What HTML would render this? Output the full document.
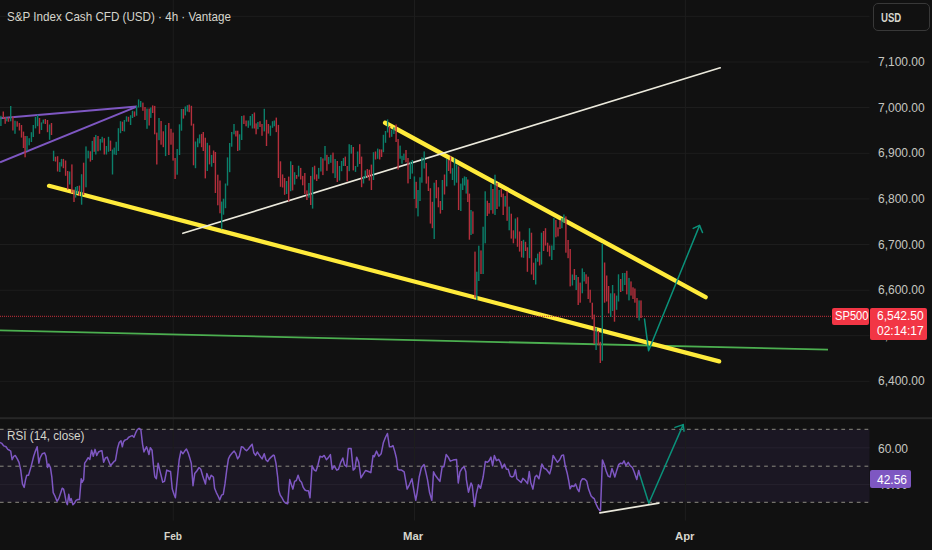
<!DOCTYPE html>
<html><head><meta charset="utf-8"><style>
html,body{margin:0;padding:0;background:#111111;}
body{width:932px;height:550px;position:relative;overflow:hidden;font-family:"Liberation Sans",Arial,sans-serif;}
.t{position:absolute;white-space:nowrap;line-height:1;}
.pl{position:absolute;left:878px;font-size:12px;color:#c6c6c0;line-height:12px;}
</style></head><body>
<svg width="932" height="550" viewBox="0 0 932 550" style="position:absolute;left:0;top:0">
<rect width="932" height="550" fill="#111111"/>
<rect x="0" y="15.8" width="869.5" height="1" fill="#1d1d1d"/>
<rect x="0" y="61.5" width="869.5" height="1" fill="#1d1d1d"/>
<rect x="0" y="107" width="869.5" height="1" fill="#1d1d1d"/>
<rect x="0" y="152.8" width="869.5" height="1" fill="#1d1d1d"/>
<rect x="0" y="198.4" width="869.5" height="1" fill="#1d1d1d"/>
<rect x="0" y="244" width="869.5" height="1" fill="#1d1d1d"/>
<rect x="0" y="289.7" width="869.5" height="1" fill="#1d1d1d"/>
<rect x="0" y="335.1" width="869.5" height="1" fill="#1d1d1d"/>
<rect x="0" y="380.8" width="869.5" height="1" fill="#1d1d1d"/>
<rect x="0" y="429.3" width="869.5" height="73" fill="#1b1723"/>
<rect x="0" y="447.3" width="869.5" height="1" fill="#26222e"/>
<rect x="0" y="484.1" width="869.5" height="1" fill="#26222e"/>
<rect x="172.7" y="0" width="1" height="520.5" fill="#1d1d1d"/>
<rect x="414" y="0" width="1" height="520.5" fill="#1d1d1d"/>
<rect x="684.9" y="0" width="1" height="520.5" fill="#1d1d1d"/>
<line x1="0" y1="429.3" x2="869.5" y2="429.3" stroke="#8c8a80" stroke-width="1" stroke-dasharray="3.75 3.97" stroke-dashoffset="0.13"/>
<line x1="0" y1="466.2" x2="869.5" y2="466.2" stroke="#8c8a80" stroke-width="1" stroke-dasharray="3.75 3.97" stroke-dashoffset="0.13"/>
<line x1="0" y1="502.3" x2="869.5" y2="502.3" stroke="#8c8a80" stroke-width="1" stroke-dasharray="3.75 3.97" stroke-dashoffset="0.13"/>
<rect x="0" y="417.2" width="932" height="2" fill="#272727"/>
<line x1="0" y1="330.4" x2="828" y2="349.7" stroke="#4caf50" stroke-width="1.8"/>
<line x1="49" y1="185.8" x2="719.2" y2="361.4" stroke="#ffeb3b" stroke-width="4.2" stroke-linecap="round"/>
<line x1="385.1" y1="122.8" x2="705.6" y2="297.1" stroke="#ffeb3b" stroke-width="4.4" stroke-linecap="round"/>
<line x1="0" y1="118.3" x2="136.8" y2="106.6" stroke="#7e57c2" stroke-width="2"/>
<line x1="0" y1="162.3" x2="136.8" y2="106.6" stroke="#7e57c2" stroke-width="2"/>
<line x1="0" y1="316.3" x2="832" y2="316.3" stroke="#c8303c" stroke-width="1" stroke-dasharray="1 1"/>
<line x1="182.9" y1="233.3" x2="720.2" y2="67.8" stroke="#ebe9dc" stroke-width="1.7" stroke-linecap="round"/>
<rect x="0.2" y="115.8" width="1.4" height="10.2" fill="#0b7f6a"/>
<rect x="2.6" y="111.5" width="1.4" height="7" fill="#b52f3c"/>
<rect x="4.5" y="117" width="1.4" height="6.8" fill="#b52f3c"/>
<rect x="6.1" y="117.5" width="1.4" height="3.8" fill="#0b7f6a"/>
<rect x="7.8" y="117.5" width="1.4" height="4.3" fill="#b52f3c"/>
<rect x="10" y="106" width="1.4" height="15.3" fill="#0b7f6a"/>
<rect x="12.2" y="116.4" width="1.4" height="14.1" fill="#b52f3c"/>
<rect x="14.3" y="120.7" width="1.4" height="13.1" fill="#0b7f6a"/>
<rect x="16.5" y="121.3" width="1.4" height="5.4" fill="#b52f3c"/>
<rect x="18.7" y="123" width="1.4" height="7.5" fill="#b52f3c"/>
<rect x="20.8" y="125" width="1.4" height="12.6" fill="#b52f3c"/>
<rect x="22.8" y="131.6" width="1.4" height="16.4" fill="#b52f3c"/>
<rect x="24.4" y="136" width="1.4" height="21.3" fill="#b52f3c"/>
<rect x="26.3" y="136" width="1.4" height="14.7" fill="#0b7f6a"/>
<rect x="28.5" y="138.2" width="1.4" height="7.1" fill="#0b7f6a"/>
<rect x="30.7" y="132.2" width="1.4" height="9.8" fill="#0b7f6a"/>
<rect x="32.6" y="125" width="1.4" height="12" fill="#0b7f6a"/>
<rect x="34.8" y="117" width="1.4" height="11.4" fill="#0b7f6a"/>
<rect x="36.9" y="114.7" width="1.4" height="11.5" fill="#0b7f6a"/>
<rect x="38.8" y="118" width="1.4" height="15.8" fill="#b52f3c"/>
<rect x="40.8" y="122.4" width="1.4" height="7.6" fill="#0b7f6a"/>
<rect x="42.6" y="119.6" width="1.4" height="3.9" fill="#0b7f6a"/>
<rect x="44.6" y="119" width="1.4" height="5" fill="#b52f3c"/>
<rect x="46.8" y="120" width="1.4" height="12.2" fill="#b52f3c"/>
<rect x="48.9" y="124.5" width="1.4" height="15.3" fill="#0b7f6a"/>
<rect x="50.8" y="123" width="1.4" height="12" fill="#b52f3c"/>
<rect x="52.9" y="150.7" width="1.4" height="10.4" fill="#0b7f6a"/>
<rect x="54.8" y="156.7" width="1.4" height="4.9" fill="#b52f3c"/>
<rect x="56.9" y="156.2" width="1.4" height="15.3" fill="#b52f3c"/>
<rect x="59.1" y="162.2" width="1.4" height="9.8" fill="#0b7f6a"/>
<rect x="60.8" y="158.9" width="1.4" height="7.6" fill="#0b7f6a"/>
<rect x="62.7" y="158.9" width="1.4" height="9.3" fill="#b52f3c"/>
<rect x="64.9" y="160.5" width="1.4" height="15.3" fill="#b52f3c"/>
<rect x="67" y="171" width="1.4" height="18.5" fill="#b52f3c"/>
<rect x="68.9" y="171.5" width="1.4" height="13" fill="#0b7f6a"/>
<rect x="71.2" y="164.4" width="1.4" height="28.3" fill="#b52f3c"/>
<rect x="73.3" y="189.5" width="1.4" height="12.5" fill="#b52f3c"/>
<rect x="74.9" y="187" width="1.4" height="10.6" fill="#0b7f6a"/>
<rect x="76.6" y="186" width="1.4" height="8" fill="#0b7f6a"/>
<rect x="78.7" y="185.6" width="1.4" height="10.4" fill="#b52f3c"/>
<rect x="80.9" y="174.2" width="1.4" height="30.5" fill="#0b7f6a"/>
<rect x="82.9" y="162.7" width="1.4" height="32.3" fill="#b52f3c"/>
<rect x="85.3" y="146.4" width="1.4" height="40.9" fill="#0b7f6a"/>
<rect x="87.5" y="150.7" width="1.4" height="7.7" fill="#0b7f6a"/>
<rect x="89.7" y="151.3" width="1.4" height="10.3" fill="#b52f3c"/>
<rect x="91.6" y="140.9" width="1.4" height="19.1" fill="#0b7f6a"/>
<rect x="93.5" y="137.1" width="1.4" height="14.7" fill="#b52f3c"/>
<rect x="95.1" y="134.9" width="1.4" height="19.6" fill="#0b7f6a"/>
<rect x="97.3" y="136" width="1.4" height="15.3" fill="#b52f3c"/>
<rect x="99.6" y="139" width="1.4" height="11.5" fill="#0b7f6a"/>
<rect x="101.5" y="136.8" width="1.4" height="5.8" fill="#0b7f6a"/>
<rect x="103.6" y="138.2" width="1.4" height="16.3" fill="#b52f3c"/>
<rect x="105.7" y="146" width="1.4" height="8.5" fill="#0b7f6a"/>
<rect x="107.8" y="136.8" width="1.4" height="15" fill="#0b7f6a"/>
<rect x="109.8" y="140.6" width="1.4" height="10.4" fill="#b52f3c"/>
<rect x="111.8" y="149.5" width="1.4" height="25" fill="#0b7f6a"/>
<rect x="113.5" y="147.6" width="1.4" height="6.9" fill="#0b7f6a"/>
<rect x="115.5" y="141.8" width="1.4" height="13.2" fill="#0b7f6a"/>
<rect x="117.7" y="128.2" width="1.4" height="22.8" fill="#0b7f6a"/>
<rect x="119.8" y="121.2" width="1.4" height="12" fill="#0b7f6a"/>
<rect x="121.8" y="121.7" width="1.4" height="9.3" fill="#b52f3c"/>
<rect x="123.7" y="120" width="1.4" height="11.5" fill="#0b7f6a"/>
<rect x="125.8" y="116.3" width="1.4" height="5.4" fill="#0b7f6a"/>
<rect x="127.8" y="116.8" width="1.4" height="4.9" fill="#b52f3c"/>
<rect x="129.9" y="115.2" width="1.4" height="9.8" fill="#0b7f6a"/>
<rect x="131.8" y="110.8" width="1.4" height="7.2" fill="#0b7f6a"/>
<rect x="133.8" y="111.4" width="1.4" height="5.4" fill="#b52f3c"/>
<rect x="135.9" y="105.9" width="1.4" height="9.8" fill="#0b7f6a"/>
<rect x="137.9" y="99.4" width="1.4" height="8.1" fill="#0b7f6a"/>
<rect x="140" y="101" width="1.4" height="6" fill="#0b7f6a"/>
<rect x="142.2" y="102.6" width="1.4" height="8.2" fill="#b52f3c"/>
<rect x="144.3" y="107" width="1.4" height="13" fill="#b52f3c"/>
<rect x="146.3" y="108.6" width="1.4" height="20.2" fill="#0b7f6a"/>
<rect x="148.5" y="108.6" width="1.4" height="16.9" fill="#b52f3c"/>
<rect x="150.1" y="107.5" width="1.4" height="10.4" fill="#0b7f6a"/>
<rect x="152" y="105.4" width="1.4" height="7.6" fill="#b52f3c"/>
<rect x="154" y="105.9" width="1.4" height="28.4" fill="#b52f3c"/>
<rect x="156.1" y="132.6" width="1.4" height="31.9" fill="#b52f3c"/>
<rect x="158.3" y="118" width="1.4" height="22.2" fill="#0b7f6a"/>
<rect x="160.4" y="121" width="1.4" height="23.7" fill="#b52f3c"/>
<rect x="162.6" y="131.3" width="1.4" height="15.9" fill="#b52f3c"/>
<rect x="164.9" y="125" width="1.4" height="31.1" fill="#0b7f6a"/>
<rect x="168.1" y="123" width="1.4" height="32" fill="#b52f3c"/>
<rect x="170.3" y="128.8" width="1.4" height="15.9" fill="#b52f3c"/>
<rect x="172.4" y="132.6" width="1.4" height="28" fill="#b52f3c"/>
<rect x="174.4" y="158" width="1.4" height="21" fill="#b52f3c"/>
<rect x="176.5" y="149" width="1.4" height="25.7" fill="#0b7f6a"/>
<rect x="178.8" y="124.3" width="1.4" height="30.7" fill="#0b7f6a"/>
<rect x="180.8" y="109" width="1.4" height="21.7" fill="#0b7f6a"/>
<rect x="182.7" y="109" width="1.4" height="9.6" fill="#b52f3c"/>
<rect x="184.6" y="106.5" width="1.4" height="8.9" fill="#0b7f6a"/>
<rect x="186.7" y="105.2" width="1.4" height="6.4" fill="#0b7f6a"/>
<rect x="188.5" y="104.6" width="1.4" height="7.6" fill="#b52f3c"/>
<rect x="190.7" y="105.8" width="1.4" height="19.8" fill="#b52f3c"/>
<rect x="192.8" y="123.7" width="1.4" height="41.6" fill="#b52f3c"/>
<rect x="194.8" y="141.5" width="1.4" height="26.7" fill="#0b7f6a"/>
<rect x="197" y="138.3" width="1.4" height="8.9" fill="#0b7f6a"/>
<rect x="198.9" y="134.5" width="1.4" height="8.9" fill="#0b7f6a"/>
<rect x="200.9" y="133.9" width="1.4" height="13.3" fill="#b52f3c"/>
<rect x="202.6" y="132" width="1.4" height="19" fill="#b52f3c"/>
<rect x="204.6" y="137.7" width="1.4" height="40.7" fill="#b52f3c"/>
<rect x="206.6" y="142.8" width="1.4" height="28.2" fill="#0b7f6a"/>
<rect x="208.8" y="145.3" width="1.4" height="19.1" fill="#b52f3c"/>
<rect x="210.9" y="154.9" width="1.4" height="11.8" fill="#0b7f6a"/>
<rect x="212.9" y="150.5" width="1.4" height="12.5" fill="#b52f3c"/>
<rect x="214.7" y="152" width="1.4" height="41" fill="#b52f3c"/>
<rect x="217.1" y="174.7" width="1.4" height="30.6" fill="#b52f3c"/>
<rect x="219.3" y="180.5" width="1.4" height="32.8" fill="#b52f3c"/>
<rect x="221" y="201.6" width="1.4" height="27.7" fill="#0b7f6a"/>
<rect x="222.8" y="198.7" width="1.4" height="16" fill="#0b7f6a"/>
<rect x="224.8" y="183.5" width="1.4" height="24.7" fill="#0b7f6a"/>
<rect x="226.8" y="157.4" width="1.4" height="28.2" fill="#0b7f6a"/>
<rect x="229" y="143" width="1.4" height="29.2" fill="#0b7f6a"/>
<rect x="231" y="132" width="1.4" height="14.7" fill="#0b7f6a"/>
<rect x="233.3" y="124" width="1.4" height="10.3" fill="#0b7f6a"/>
<rect x="235.2" y="130.7" width="1.4" height="5.8" fill="#b52f3c"/>
<rect x="237" y="130.7" width="1.4" height="20.3" fill="#b52f3c"/>
<rect x="238.9" y="134.3" width="1.4" height="16" fill="#0b7f6a"/>
<rect x="241" y="116" width="1.4" height="24" fill="#0b7f6a"/>
<rect x="243.2" y="115.4" width="1.4" height="8.6" fill="#b52f3c"/>
<rect x="245.4" y="120.5" width="1.4" height="5.8" fill="#b52f3c"/>
<rect x="247.6" y="120.5" width="1.4" height="7.3" fill="#0b7f6a"/>
<rect x="249.6" y="116" width="1.4" height="9.6" fill="#0b7f6a"/>
<rect x="251.7" y="114" width="1.4" height="14.5" fill="#0b7f6a"/>
<rect x="253.7" y="112.5" width="1.4" height="16" fill="#b52f3c"/>
<rect x="255.4" y="123.4" width="1.4" height="10.9" fill="#b52f3c"/>
<rect x="257.2" y="122" width="1.4" height="7.2" fill="#0b7f6a"/>
<rect x="259.3" y="121.2" width="1.4" height="5.8" fill="#b52f3c"/>
<rect x="261.3" y="124" width="1.4" height="11.8" fill="#b52f3c"/>
<rect x="263.6" y="108.8" width="1.4" height="22.6" fill="#0b7f6a"/>
<rect x="265.8" y="119.8" width="1.4" height="26.2" fill="#b52f3c"/>
<rect x="267.7" y="124" width="1.4" height="9.6" fill="#b52f3c"/>
<rect x="269.7" y="125.6" width="1.4" height="10.2" fill="#0b7f6a"/>
<rect x="271.8" y="121.2" width="1.4" height="6.6" fill="#0b7f6a"/>
<rect x="273.6" y="120.5" width="1.4" height="5.8" fill="#0b7f6a"/>
<rect x="275.6" y="117.6" width="1.4" height="14.5" fill="#b52f3c"/>
<rect x="277.7" y="124.9" width="1.4" height="53.1" fill="#b52f3c"/>
<rect x="279.8" y="161.3" width="1.4" height="25.5" fill="#b52f3c"/>
<rect x="281.9" y="174.4" width="1.4" height="13.1" fill="#b52f3c"/>
<rect x="283.9" y="178" width="1.4" height="16.8" fill="#b52f3c"/>
<rect x="285.9" y="181" width="1.4" height="13" fill="#0b7f6a"/>
<rect x="288" y="176.6" width="1.4" height="24.8" fill="#b52f3c"/>
<rect x="290" y="161.3" width="1.4" height="29.9" fill="#0b7f6a"/>
<rect x="291.9" y="165" width="1.4" height="25.4" fill="#b52f3c"/>
<rect x="293.9" y="172.2" width="1.4" height="12.4" fill="#0b7f6a"/>
<rect x="295.9" y="175" width="1.4" height="3.8" fill="#b52f3c"/>
<rect x="297.9" y="165.7" width="1.4" height="10.9" fill="#0b7f6a"/>
<rect x="300" y="167.9" width="1.4" height="11.6" fill="#b52f3c"/>
<rect x="302" y="175.9" width="1.4" height="9.4" fill="#b52f3c"/>
<rect x="304.1" y="173" width="1.4" height="21" fill="#b52f3c"/>
<rect x="306.2" y="190.4" width="1.4" height="9.6" fill="#b52f3c"/>
<rect x="308.2" y="183" width="1.4" height="14.7" fill="#0b7f6a"/>
<rect x="310" y="175.9" width="1.4" height="29.1" fill="#b52f3c"/>
<rect x="311.9" y="167.1" width="1.4" height="41.5" fill="#0b7f6a"/>
<rect x="313.9" y="165.7" width="1.4" height="13.8" fill="#b52f3c"/>
<rect x="316" y="174.4" width="1.4" height="6.6" fill="#b52f3c"/>
<rect x="318" y="167.9" width="1.4" height="10.9" fill="#0b7f6a"/>
<rect x="320.2" y="157" width="1.4" height="14.5" fill="#0b7f6a"/>
<rect x="322.2" y="158.4" width="1.4" height="16.7" fill="#b52f3c"/>
<rect x="324.3" y="146" width="1.4" height="14.6" fill="#0b7f6a"/>
<rect x="326.2" y="154.8" width="1.4" height="16" fill="#b52f3c"/>
<rect x="328" y="157" width="1.4" height="7.2" fill="#0b7f6a"/>
<rect x="330.1" y="154.8" width="1.4" height="8" fill="#0b7f6a"/>
<rect x="332.3" y="152.6" width="1.4" height="20.7" fill="#b52f3c"/>
<rect x="334.4" y="159" width="1.4" height="19" fill="#0b7f6a"/>
<rect x="336.6" y="161" width="1.4" height="21" fill="#b52f3c"/>
<rect x="338.8" y="166" width="1.4" height="14.6" fill="#0b7f6a"/>
<rect x="340.9" y="161" width="1.4" height="10.2" fill="#0b7f6a"/>
<rect x="342.8" y="158" width="1.4" height="8" fill="#0b7f6a"/>
<rect x="344.6" y="156.6" width="1.4" height="9.4" fill="#b52f3c"/>
<rect x="346.5" y="166" width="1.4" height="15.4" fill="#b52f3c"/>
<rect x="348.5" y="144.2" width="1.4" height="27" fill="#0b7f6a"/>
<rect x="350.6" y="145" width="1.4" height="8.7" fill="#0b7f6a"/>
<rect x="352.6" y="147" width="1.4" height="23.4" fill="#b52f3c"/>
<rect x="354.8" y="166" width="1.4" height="5.9" fill="#0b7f6a"/>
<rect x="356.9" y="151.5" width="1.4" height="15.3" fill="#0b7f6a"/>
<rect x="359" y="144.2" width="1.4" height="19.8" fill="#b52f3c"/>
<rect x="360.9" y="156.6" width="1.4" height="30.6" fill="#b52f3c"/>
<rect x="362.8" y="176.3" width="1.4" height="7.2" fill="#0b7f6a"/>
<rect x="364.6" y="170.4" width="1.4" height="8" fill="#0b7f6a"/>
<rect x="366.6" y="169" width="1.4" height="8" fill="#b52f3c"/>
<rect x="368.6" y="169.7" width="1.4" height="10.9" fill="#b52f3c"/>
<rect x="370.7" y="164.6" width="1.4" height="25.4" fill="#b52f3c"/>
<rect x="372.8" y="152.2" width="1.4" height="27.8" fill="#0b7f6a"/>
<rect x="374.8" y="151.5" width="1.4" height="8" fill="#b52f3c"/>
<rect x="377" y="148.6" width="1.4" height="10.2" fill="#0b7f6a"/>
<rect x="379" y="149.3" width="1.4" height="10.2" fill="#b52f3c"/>
<rect x="380.9" y="149.5" width="1.4" height="7.5" fill="#b52f3c"/>
<rect x="382.7" y="134.8" width="1.4" height="17.4" fill="#0b7f6a"/>
<rect x="384.8" y="131" width="1.4" height="11.8" fill="#0b7f6a"/>
<rect x="386.9" y="119.4" width="1.4" height="13.1" fill="#0b7f6a"/>
<rect x="388.9" y="126" width="1.4" height="11.6" fill="#b52f3c"/>
<rect x="391" y="129.6" width="1.4" height="7.2" fill="#0b7f6a"/>
<rect x="393.2" y="127.4" width="1.4" height="6.6" fill="#0b7f6a"/>
<rect x="395.4" y="124.5" width="1.4" height="17.5" fill="#b52f3c"/>
<rect x="397.4" y="139" width="1.4" height="30.6" fill="#b52f3c"/>
<rect x="399.4" y="145.6" width="1.4" height="13.1" fill="#0b7f6a"/>
<rect x="401.3" y="155.8" width="1.4" height="8" fill="#0b7f6a"/>
<rect x="403.2" y="153.6" width="1.4" height="6.5" fill="#0b7f6a"/>
<rect x="405.3" y="150" width="1.4" height="12.3" fill="#b52f3c"/>
<rect x="407.3" y="158" width="1.4" height="25.4" fill="#b52f3c"/>
<rect x="409.6" y="161.6" width="1.4" height="17.4" fill="#0b7f6a"/>
<rect x="411.6" y="160" width="1.4" height="13.6" fill="#0b7f6a"/>
<rect x="413.7" y="176.4" width="1.4" height="22.6" fill="#0b7f6a"/>
<rect x="415.5" y="181.8" width="1.4" height="26.4" fill="#b52f3c"/>
<rect x="417.3" y="190" width="1.4" height="26.4" fill="#0b7f6a"/>
<rect x="419.3" y="177.3" width="1.4" height="23.7" fill="#0b7f6a"/>
<rect x="421.2" y="157.3" width="1.4" height="25.4" fill="#0b7f6a"/>
<rect x="423.5" y="151.4" width="1.4" height="17.1" fill="#0b7f6a"/>
<rect x="425.6" y="163" width="1.4" height="20.6" fill="#b52f3c"/>
<rect x="427.7" y="176.4" width="1.4" height="14.6" fill="#b52f3c"/>
<rect x="429.7" y="188.2" width="1.4" height="35.4" fill="#b52f3c"/>
<rect x="431.7" y="201.8" width="1.4" height="26.4" fill="#b52f3c"/>
<rect x="433.5" y="182.7" width="1.4" height="56.3" fill="#0b7f6a"/>
<rect x="435.6" y="180" width="1.4" height="18.2" fill="#b52f3c"/>
<rect x="437.7" y="187.3" width="1.4" height="20" fill="#b52f3c"/>
<rect x="439.7" y="201" width="1.4" height="12.6" fill="#b52f3c"/>
<rect x="441.7" y="180" width="1.4" height="30" fill="#0b7f6a"/>
<rect x="443.8" y="174.5" width="1.4" height="20" fill="#b52f3c"/>
<rect x="446" y="159" width="1.4" height="27.4" fill="#0b7f6a"/>
<rect x="447.9" y="160" width="1.4" height="11" fill="#b52f3c"/>
<rect x="449.8" y="156.4" width="1.4" height="17.2" fill="#b52f3c"/>
<rect x="451.8" y="168.2" width="1.4" height="11.8" fill="#0b7f6a"/>
<rect x="453.8" y="158.2" width="1.4" height="27.3" fill="#0b7f6a"/>
<rect x="455.9" y="164.5" width="1.4" height="18.2" fill="#0b7f6a"/>
<rect x="457.9" y="166.4" width="1.4" height="43.6" fill="#b52f3c"/>
<rect x="460.1" y="183.6" width="1.4" height="27.4" fill="#0b7f6a"/>
<rect x="462" y="178.2" width="1.4" height="11.8" fill="#0b7f6a"/>
<rect x="463.8" y="176.4" width="1.4" height="9.1" fill="#0b7f6a"/>
<rect x="465.5" y="177" width="1.4" height="16.6" fill="#0b7f6a"/>
<rect x="467.1" y="179.5" width="1.4" height="22.5" fill="#b52f3c"/>
<rect x="468.7" y="193.6" width="1.4" height="46.1" fill="#b52f3c"/>
<rect x="470.3" y="210" width="1.4" height="25" fill="#0b7f6a"/>
<rect x="472.2" y="211.4" width="1.4" height="22.4" fill="#b52f3c"/>
<rect x="474.3" y="251.6" width="1.4" height="46.1" fill="#b52f3c"/>
<rect x="476.1" y="271.7" width="1.4" height="28.3" fill="#0b7f6a"/>
<rect x="478.1" y="245.7" width="1.4" height="35.3" fill="#0b7f6a"/>
<rect x="480.3" y="250.4" width="1.4" height="23.6" fill="#b52f3c"/>
<rect x="482.4" y="226.7" width="1.4" height="47.3" fill="#0b7f6a"/>
<rect x="484.5" y="191.3" width="1.4" height="52" fill="#0b7f6a"/>
<rect x="486.6" y="200.7" width="1.4" height="15.3" fill="#b52f3c"/>
<rect x="488.4" y="203" width="1.4" height="10.7" fill="#b52f3c"/>
<rect x="490.3" y="184.2" width="1.4" height="26" fill="#0b7f6a"/>
<rect x="492.2" y="189" width="1.4" height="24.7" fill="#b52f3c"/>
<rect x="494.3" y="174.7" width="1.4" height="40.3" fill="#0b7f6a"/>
<rect x="496.3" y="183" width="1.4" height="26" fill="#b52f3c"/>
<rect x="498.5" y="190" width="1.4" height="16.6" fill="#0b7f6a"/>
<rect x="500.6" y="189" width="1.4" height="8.2" fill="#b52f3c"/>
<rect x="502.5" y="193.6" width="1.4" height="21.4" fill="#b52f3c"/>
<rect x="504.5" y="196" width="1.4" height="10.6" fill="#0b7f6a"/>
<rect x="506.4" y="191.3" width="1.4" height="29.5" fill="#b52f3c"/>
<rect x="508.5" y="206.6" width="1.4" height="23.7" fill="#0b7f6a"/>
<rect x="510.6" y="213.7" width="1.4" height="24.9" fill="#b52f3c"/>
<rect x="512.7" y="230.3" width="1.4" height="13" fill="#b52f3c"/>
<rect x="514.7" y="218.5" width="1.4" height="20.1" fill="#0b7f6a"/>
<rect x="516.8" y="217.3" width="1.4" height="29.5" fill="#b52f3c"/>
<rect x="518.9" y="231.5" width="1.4" height="20.1" fill="#b52f3c"/>
<rect x="520.9" y="241" width="1.4" height="16.4" fill="#b52f3c"/>
<rect x="522.8" y="239.8" width="1.4" height="18" fill="#0b7f6a"/>
<rect x="524.8" y="241.8" width="1.4" height="9.2" fill="#b52f3c"/>
<rect x="526.7" y="247.3" width="1.4" height="24.5" fill="#b52f3c"/>
<rect x="528.8" y="228.2" width="1.4" height="30" fill="#0b7f6a"/>
<rect x="530.8" y="232.7" width="1.4" height="41.8" fill="#b52f3c"/>
<rect x="532.9" y="262.7" width="1.4" height="17.3" fill="#b52f3c"/>
<rect x="535" y="258.2" width="1.4" height="26.3" fill="#0b7f6a"/>
<rect x="537" y="253.6" width="1.4" height="8.2" fill="#0b7f6a"/>
<rect x="538.9" y="251.8" width="1.4" height="13.7" fill="#b52f3c"/>
<rect x="540.8" y="232.7" width="1.4" height="31.8" fill="#0b7f6a"/>
<rect x="542.9" y="231" width="1.4" height="20" fill="#b52f3c"/>
<rect x="544.8" y="228.2" width="1.4" height="17.3" fill="#b52f3c"/>
<rect x="546.9" y="242.7" width="1.4" height="9.1" fill="#b52f3c"/>
<rect x="548.9" y="245.5" width="1.4" height="10.9" fill="#b52f3c"/>
<rect x="551.1" y="245.5" width="1.4" height="14.5" fill="#0b7f6a"/>
<rect x="553.2" y="218.2" width="1.4" height="31.8" fill="#0b7f6a"/>
<rect x="555.2" y="220" width="1.4" height="17.3" fill="#b52f3c"/>
<rect x="557.3" y="227.3" width="1.4" height="9.1" fill="#b52f3c"/>
<rect x="559.3" y="220" width="1.4" height="9" fill="#b52f3c"/>
<rect x="561.2" y="218.2" width="1.4" height="10" fill="#0b7f6a"/>
<rect x="563.2" y="214.5" width="1.4" height="8.2" fill="#0b7f6a"/>
<rect x="565.2" y="216.4" width="1.4" height="36.3" fill="#b52f3c"/>
<rect x="567.4" y="240" width="1.4" height="18.2" fill="#b52f3c"/>
<rect x="569.5" y="249" width="1.4" height="37.4" fill="#b52f3c"/>
<rect x="571.7" y="274.5" width="1.4" height="11" fill="#0b7f6a"/>
<rect x="573.7" y="269" width="1.4" height="11" fill="#b52f3c"/>
<rect x="575.5" y="275" width="1.4" height="15" fill="#0b7f6a"/>
<rect x="577.5" y="277" width="1.4" height="28" fill="#b52f3c"/>
<rect x="579.5" y="282.6" width="1.4" height="20.1" fill="#b52f3c"/>
<rect x="581.6" y="268.4" width="1.4" height="24.9" fill="#0b7f6a"/>
<rect x="583.5" y="272" width="1.4" height="9.4" fill="#0b7f6a"/>
<rect x="585.4" y="274.3" width="1.4" height="9.5" fill="#b52f3c"/>
<rect x="587.5" y="276.7" width="1.4" height="22.3" fill="#b52f3c"/>
<rect x="589.5" y="289.7" width="1.4" height="13" fill="#b52f3c"/>
<rect x="591.6" y="302.7" width="1.4" height="16.6" fill="#b52f3c"/>
<rect x="593.5" y="314.6" width="1.4" height="29.4" fill="#b52f3c"/>
<rect x="595.4" y="327.6" width="1.4" height="22.4" fill="#0b7f6a"/>
<rect x="597.6" y="331" width="1.4" height="14.3" fill="#b52f3c"/>
<rect x="599.6" y="341.8" width="1.4" height="21.2" fill="#b52f3c"/>
<rect x="601.6" y="243.6" width="1.4" height="117.1" fill="#0b7f6a"/>
<rect x="603.9" y="262.5" width="1.4" height="40.2" fill="#b52f3c"/>
<rect x="606" y="275.5" width="1.4" height="26" fill="#b52f3c"/>
<rect x="607.9" y="286" width="1.4" height="27.4" fill="#b52f3c"/>
<rect x="610" y="293.3" width="1.4" height="23.7" fill="#0b7f6a"/>
<rect x="611.9" y="285" width="1.4" height="26" fill="#0b7f6a"/>
<rect x="613.8" y="293.3" width="1.4" height="28.4" fill="#b52f3c"/>
<rect x="615.9" y="295.6" width="1.4" height="14.2" fill="#0b7f6a"/>
<rect x="617.8" y="274.3" width="1.4" height="27.2" fill="#0b7f6a"/>
<rect x="620" y="279" width="1.4" height="13" fill="#b52f3c"/>
<rect x="621.9" y="273" width="1.4" height="18" fill="#0b7f6a"/>
<rect x="624.1" y="273" width="1.4" height="12" fill="#0b7f6a"/>
<rect x="626.1" y="270.8" width="1.4" height="23.6" fill="#b52f3c"/>
<rect x="628.3" y="277.9" width="1.4" height="22.5" fill="#0b7f6a"/>
<rect x="630.3" y="281.4" width="1.4" height="14.2" fill="#b52f3c"/>
<rect x="632.3" y="287.3" width="1.4" height="11.7" fill="#b52f3c"/>
<rect x="634.2" y="288.5" width="1.4" height="14.2" fill="#b52f3c"/>
<rect x="636.3" y="298" width="1.4" height="20" fill="#b52f3c"/>
<rect x="638.4" y="300.4" width="1.4" height="20.1" fill="#0b7f6a"/>
<rect x="640.3" y="300.4" width="1.4" height="17.6" fill="#b52f3c"/>
<polyline points="644.5,319 648.6,350.8 699.5,225.6" fill="none" stroke="#0a917a" stroke-width="1.5" stroke-linejoin="round" stroke-linecap="round"/>
<polyline points="693.2,228.4 699.5,225.4 702.5,232.5" fill="none" stroke="#0a917a" stroke-width="1.5" stroke-linejoin="round" stroke-linecap="round"/>
<path d="M0 442.46 L1.73 443.33 L3.8 445.92 L6.05 446.78 L7.78 449.37 L9.5 450.24 L10.71 451.1 L12.1 459.74 L13.82 456.29 L15.21 455.42 L17.28 458.88 L19.01 462.33 L20.73 470.11 L22.46 483.93 L24.19 487.39 L25.57 479.61 L26.78 475.29 L28.51 475.29 L31.1 466.65 L33.69 456.29 L35.42 451.1 L37.15 446.78 L38.88 463.2 L40.09 458.01 L42.33 453.69 L44.58 452.83 L45.96 456.29 L47.52 467.52 L48.73 464.06 L50.45 467.52 L51.84 477.02 L53.22 492.57 L54.95 496.03 L57.02 501.21 L58.75 498.62 L60.48 493.43 L62.2 488.25 L63.59 489.11 L64.79 494.3 L66 501.21 L67.39 504.67 L68.77 494.3 L69.98 501.21 L71.19 498.62 L72.92 504.67 L74.64 502.94 L76.03 500.35 L77.75 499.48 L79.48 499.48 L81.21 478.75 L82.25 482.2 L83.63 479.61 L84.67 463.2 L86.39 460.6 L88.12 457.67 L89.85 459.4 L91.58 450.24 L93.3 456.29 L95.03 449.37 L96.76 455.42 L98.49 451.97 L100.22 451.1 L101.94 450.76 L103.67 462.33 L105.4 458.01 L107.13 457.15 L108.86 461.47 L110.58 465.79 L111.97 464.06 L114.04 461.47 L115.42 460.6 L117.49 448.51 L119.22 442.46 L120.95 440.73 L122.33 446.78 L123.54 441.6 L125.27 439.87 L127 439.35 L128.73 437.28 L130.45 436.41 L132.18 435.55 L133.91 437.28 L135.64 432.96 L137.37 429.5 L139.09 428.29 L140.82 429.5 L142.55 444.19 L143.93 451.97 L145.14 449.37 L146.52 446.78 L147.73 450.24 L148.94 454.56 L150.32 447.65 L152.05 450.24 L153.43 464.92 L154.64 475.29 L155 477.02 L156.38 478.75 L158.11 463.2 L160.18 471.84 L162.78 482.2 L164.5 481.34 L166.75 470.11 L168.82 470.97 L170.55 471.49 L172.28 489.11 L174.01 494.3 L175.39 497.75 L177.46 477.02 L179.19 459.74 L180.92 451.1 L182.99 453.69 L184.72 451.1 L186.45 449.03 L188.17 452.83 L189.56 457.15 L191.29 463.2 L193.01 485.66 L194.74 473.56 L196.81 470.97 L199.06 467.52 L200.79 469.24 L202.52 475.29 L203.9 479.61 L205.45 483.93 L206.84 473.56 L208.22 477.02 L209.43 479.61 L211.16 475.29 L213.4 477.02 L214.61 488.25 L216.34 492.57 L218.07 496.03 L219.79 499.83 L221.52 495.16 L223.25 494.3 L224.98 483.93 L226.71 470.11 L228.43 458.88 L230.16 455.42 L232.41 452.83 L234.14 451.1 L235.86 453.69 L237.59 458.88 L239.32 456.29 L241.39 446.78 L243.12 447.3 L244.85 449.37 L246.58 450.76 L248.3 449.03 L250.03 446.78 L252.11 444.19 L253.83 452.83 L255.56 455.42 L257.29 451.97 L259.02 454.56 L260.75 457.15 L262.13 458.88 L264.2 453.69 L265.93 459.74 L267.66 461.47 L269.38 458.88 L271.11 457.15 L273.36 455.08 L274.22 455.42 L275.95 463.2 L277.68 477.02 L278.89 490.84 L280.27 495.16 L282 497.75 L283.73 501.21 L285.45 502.94 L287.7 503.8 L288.91 489.11 L289.77 479.61 L291.16 483.93 L292.88 489.11 L294.61 481.34 L296.34 480.48 L298.07 475.29 L299.79 480.48 L301.52 482.2 L303.25 487.39 L304.98 489.98 L306.71 490.84 L308.43 490.84 L310 497.75 L312.07 465.79 L314.32 470.11 L316.05 470.97 L317.78 465.79 L320.02 456.29 L322.1 457.15 L324.17 455.42 L326.41 459.74 L328.66 457.15 L330.39 454.56 L332.12 469.24 L334.19 465.79 L336.78 470.11 L338.51 469.24 L340.76 462.33 L342.83 458.01 L344.56 464.92 L346.63 466.65 L348.36 448.51 L351.12 448.51 L353.2 470.11 L354.92 468.38 L356.65 457.15 L358.73 462.33 L360.97 477.88 L363.56 473.56 L365.64 470.45 L368.4 471.49 L370.82 472.7 L373.07 455.42 L374.28 456.63 L376.52 451.1 L378.77 456.29 L381.19 453.69 L383.43 442.46 L385.51 437.28 L387.41 433.48 L389.48 446.78 L391.21 446.78 L392.94 445.57 L394.67 451.1 L396.39 458.01 L397.78 469.24 L399.5 470.11 L401.58 470.11 L404.17 471.84 L407.11 489.11 L409.35 484.79 L411.94 478.75 L413.67 489.11 L415.75 500.35 L417.13 492.57 L419.2 477.02 L421.45 467.52 L424.04 464.58 L425.77 471.84 L427.49 479.61 L429.57 492.57 L431.81 500.35 L433.54 471.84 L435.27 475.29 L437.86 478.75 L439.94 481.34 L442.18 466.65 L443.91 466.65 L446.16 454.56 L448.23 457.15 L450.3 461.12 L453.07 460.09 L456.52 459.4 L458.25 483.07 L459.98 471.84 L462.05 468.38 L464.13 466.65 L465.85 471.84 L466.38 479.61 L468.46 492.22 L471.05 483.07 L472.26 485.66 L474.5 506.39 L476.23 494.3 L478.48 484.79 L480.55 488.25 L483.14 477.02 L485.39 461.47 L487.46 462.33 L489.19 460.6 L490.92 457.15 L492.65 465.79 L494.37 455.42 L496.45 460.6 L498.69 459.4 L500.42 462.33 L502.15 468.03 L504.4 464.06 L506.47 469.24 L508.2 469.24 L510.27 476.16 L512 477.02 L513.73 476.16 L515.45 469.76 L516.84 478.75 L518.91 480.48 L521.16 482.55 L522.88 478.4 L525.13 480.48 L527.55 483.59 L529.28 471.49 L530.66 482.2 L532.9 489.11 L534.98 477.02 L536.71 475.29 L538.95 478.75 L541.89 464.06 L544.14 468.38 L546.21 469.24 L547.94 471.49 L549.67 473.91 L551.39 467.52 L553.12 455.42 L555.19 458.88 L557.44 462.33 L559.69 459.74 L561.76 455.42 L563.49 454.9 L565.22 465.79 L567.29 473.56 L568.67 480.48 L570.05 488.77 L571.78 485.66 L573.86 486.52 L575.58 483.93 L577.31 488.77 L579.04 491.71 L580.77 481.34 L582.49 478.75 L584.57 479.09 L586.81 481.34 L588.54 489.11 L591.13 496.03 L592.86 497.75 L594.24 498.62 L596.32 504.67 L598.05 508.12 L599.77 510.71 L600.5 510.49 L602.41 459.88 L604.32 464.66 L606.23 471.34 L608.14 476.12 L610.05 477.07 L611.96 468.48 L613.3 472.3 L614.83 477.07 L616.74 470.39 L618.65 464.66 L620.56 463.13 L622.47 463.7 L624 460.84 L625.91 465.61 L628.2 462.36 L630.11 465.61 L632.4 467.52 L634.31 472.3 L636.79 479.55 L638.7 470.39 L640.04 476.12" fill="none" stroke="#7e57c2" stroke-width="1.5" stroke-linejoin="round"/>
<polyline points="640.2,476 648.8,503.2 683.2,424.6" fill="none" stroke="#0a917a" stroke-width="1.5" stroke-linejoin="round" stroke-linecap="round"/>
<polyline points="675,427.4 683.2,424.6 684,431.2" fill="none" stroke="#0a917a" stroke-width="1.5" stroke-linejoin="round" stroke-linecap="round"/>
<line x1="599.9" y1="512.8" x2="658.8" y2="503.2" stroke="#ebe9dc" stroke-width="1.7" stroke-linecap="round"/>
</svg>
<div class="t" style="left:7px;top:10.1px;font-size:13px;color:#d6d5cc;transform:scaleX(0.895);transform-origin:0 0;">S&amp;P Index Cash CFD (USD) · 4h · Vantage</div>
<div style="position:absolute;left:872.8px;top:3px;width:57.4px;height:28px;border:1.5px solid #383838;border-radius:5px;box-sizing:border-box;"></div>
<div class="t" style="left:881.3px;top:12px;font-size:12.5px;color:#d6d5cc;font-weight:bold;transform:scaleX(0.77);transform-origin:0 0;">USD</div>
<div class="pl" style="top:56px">7,100.00</div>
<div class="pl" style="top:101.5px">7,000.00</div>
<div class="pl" style="top:147.3px">6,900.00</div>
<div class="pl" style="top:192.9px">6,800.00</div>
<div class="pl" style="top:238.5px">6,700.00</div>
<div class="pl" style="top:284.2px">6,600.00</div>
<div class="pl" style="top:329.6px">6,500.00</div>
<div class="pl" style="top:375.3px">6,400.00</div>
<div style="position:absolute;left:831.7px;top:307.8px;width:37.3px;height:16.8px;background:#f23645;border-radius:2px;"></div>
<div class="t" style="left:835px;top:310.3px;font-size:12px;color:#fff;transform:scaleX(0.93);transform-origin:0 0;">SP500</div>
<div style="position:absolute;left:870.3px;top:307.6px;width:56.6px;height:32px;background:#f23645;border-radius:2px;"></div>
<div class="t" style="left:877px;top:310.3px;font-size:12px;color:#fff;">6,542.50</div>
<div class="t" style="left:877px;top:324.5px;font-size:12px;color:#fff;">02:14:17</div>
<div class="pl" style="top:442.5px">60.00</div>
<div class="pl" style="top:479px">40.00</div>
<div style="position:absolute;left:870px;top:470.4px;width:41px;height:17.4px;background:#7e57c2;border-radius:2px;"></div>
<div class="t" style="left:877px;top:474.3px;font-size:12px;color:#fff;">42.56</div>
<div class="t" style="left:7px;top:429.8px;font-size:12px;color:#d6d5cc;transform:scaleX(0.976);transform-origin:0 0;">RSI (14, close)</div>
<div class="t" style="left:163.5px;top:530.5px;font-size:11px;color:#d6d5cc;font-weight:bold;transform:scaleX(0.92);transform-origin:0 0;">Feb</div>
<div class="t" style="left:403.3px;top:530.5px;font-size:11px;color:#d6d5cc;font-weight:bold;transform:scaleX(1.03);transform-origin:0 0;">Mar</div>
<div class="t" style="left:675.3px;top:530.5px;font-size:11px;color:#d6d5cc;font-weight:bold;transform:scaleX(1.03);transform-origin:0 0;">Apr</div>
</body></html>
